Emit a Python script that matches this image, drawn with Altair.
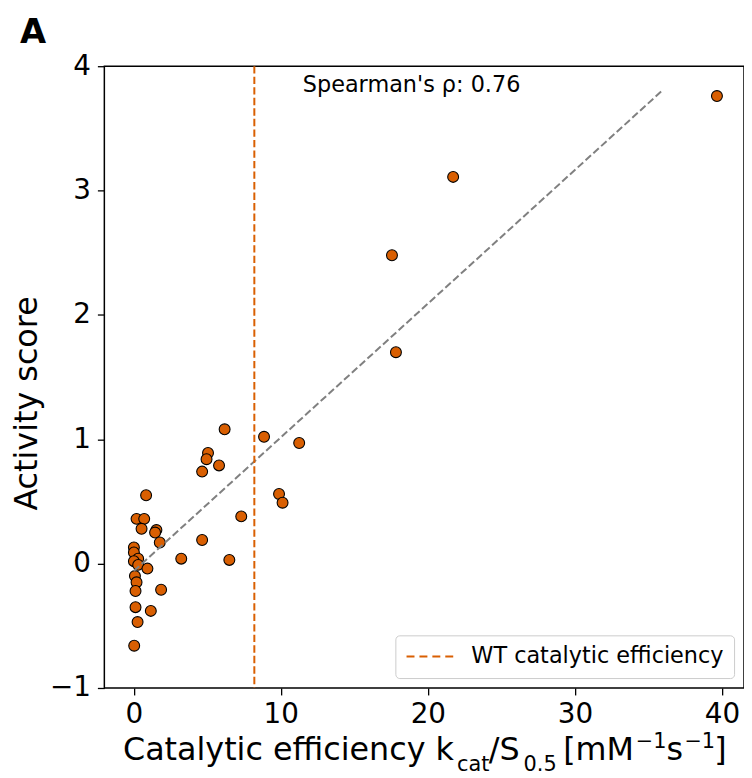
import altair as alt
import pandas as pd

# ---- data ----
efficiency = [6.18, 8.86, 11.25, 5.05, 4.95, 5.80, 4.65, 0.84, 9.88, 10.12,
              0.19, 0.71, 0.53, 1.54, 1.45, 1.77, 7.31, 4.65, 0.01, 0.01,
              0.30, 0.01, 0.30, 0.93, 3.23, 6.50, 0.08, 0.19, 0.12, 1.86,
              0.12, 1.16, 0.26, 0.03, 17.56, 21.72, 17.83, 39.66]
activity = [1.08, 1.02, 0.97, 0.89, 0.84, 0.79, 0.74, 0.55, 0.56, 0.49,
            0.36, 0.36, 0.28, 0.27, 0.25, 0.17, 0.38, 0.19, 0.13, 0.09,
            0.04, 0.02, -0.01, -0.04, 0.04, 0.03, -0.10, -0.15, -0.22, -0.21,
            -0.35, -0.38, -0.47, -0.66, 2.48, 3.11, 1.70, 3.76]
wt_efficiency = [8.2]
wt_label = ["WT catalytic efficiency"]
fit_x = [0.0, 35.9]
fit_y = [-0.06, 3.80]
x_ticks = [0, 10, 20, 30, 40]
y_ticks = [-1, 0, 1, 2, 3, 4]
annot_x = [11.5]
annot_y = [3.79]
annot_text = ["Spearman's ρ: 0.76"]

FONT = "DejaVu Sans"
ORANGE = "#d95f02"

pts = pd.DataFrame({"eff": efficiency, "act": activity})
fit = pd.DataFrame({"eff": fit_x, "act": fit_y})
wt = pd.DataFrame({"eff": wt_efficiency, "label": wt_label})
ann = pd.DataFrame({"eff": annot_x, "act": annot_y, "t": annot_text})

xscale = alt.Scale(domain=[-2.0, 41.5], nice=False, zero=False)
yscale = alt.Scale(domain=[-1, 4], nice=False, zero=False)

xaxis = alt.Axis(values=x_ticks, title=None, format="d", grid=False, domain=False,
                 labelFont=FONT, labelFontSize=28, labelColor="black",
                 tickSize=7, tickWidth=1.3, tickColor="black", labelPadding=6)
yaxis = alt.Axis(values=y_ticks, title="Activity score", format="d", grid=False, domain=False,
                 labelFont=FONT, labelFontSize=28, labelColor="black",
                 tickSize=7, tickWidth=1.3, tickColor="black", labelPadding=7,
                 titleFont=FONT, titleFontSize=32, titleFontWeight="normal", titleColor="black",
                 titleAngle=270, titleX=-68, titleY=339, titleAlign="center",
                 titleBaseline="alphabetic")

X = alt.X("eff:Q", scale=xscale, axis=xaxis)
Y = alt.Y("act:Q", scale=yscale, axis=yaxis)

points = alt.Chart(pts).mark_point(
    shape="circle", filled=True, size=120, fill=ORANGE, stroke="black",
    strokeWidth=1.1, opacity=1, fillOpacity=1, strokeOpacity=1
).encode(x=X, y=Y)

fit_line = alt.Chart(fit).mark_line(
    color="#808080", strokeWidth=2, strokeDash=[7.4, 3.2]
).encode(x=X, y=Y)

wt_rule = alt.Chart(wt).mark_rule(strokeWidth=2, strokeDash=[7.4, 3.2]).encode(
    x=X,
    color=alt.Color("label:N", scale=alt.Scale(range=[ORANGE]),
                    legend=alt.Legend(title=None, orient="bottom-right", offset=10,
                                      symbolType="M-1,0H3.7", symbolSize=400,
                                      symbolStrokeWidth=2, symbolDash=[8, 5],
                                      symbolStrokeColor=ORANGE,
                                      labelFont=FONT, labelFontSize=22.5, labelColor="black",
                                      labelLimit=500, labelOffset=44, padding=10,
                                      fillColor="white", strokeColor="#cccccc",
                                      cornerRadius=4))
)

annot = alt.Chart(ann).mark_text(
    align="left", baseline="alphabetic", font=FONT, fontSize=22.5, color="black"
).encode(x=X, y=Y, text="t:N")

# x-axis title built from pieces (sub/superscripts)
MAIN, SUB, SUP = 698, 710, 686
title_pieces = [
    ("Catalytic efficiency k", 352, MAIN, 32, "right"),
    ("cat", 355, SUB, 21, "left"),
    ("/S", 387, MAIN, 32, "left"),
    ("0.5", 422, SUB, 21, "left"),
    ("[mM", 462, MAIN, 32, "left"),
    ("\u22121", 535, SUP, 21, "left"),
    ("s", 566, MAIN, 32, "left"),
    ("\u22121", 584, SUP, 21, "left"),
    ("]", 614, MAIN, 32, "left"),
]
one = alt.Data(values=[{"k": 0}])
title_layers = [
    alt.Chart(one).mark_text(text=t, align=al, baseline="alphabetic", font=FONT,
                             fontSize=fs, color="black").encode(x=alt.value(px), y=alt.value(py))
    for t, px, py, fs, al in title_pieces
]

panel = alt.Chart(one).mark_text(text="A", align="left", baseline="alphabetic", font=FONT,
                                 fontSize=34, fontWeight="bold", color="black").encode(
    x=alt.value(-85), y=alt.value(-23))

chart = alt.layer(points, fit_line, wt_rule, annot, panel, *title_layers).properties(
    width=644, height=626,
    padding={"left": 97, "top": 56, "right": 0, "bottom": 86},
    autosize=alt.AutoSizeParams(type="none"),
).configure(
    background="white",
    view=alt.ViewConfig(stroke="black", strokeWidth=1.5),
)

chart.save("out.html", embed_options={"renderer": "svg", "actions": False})
